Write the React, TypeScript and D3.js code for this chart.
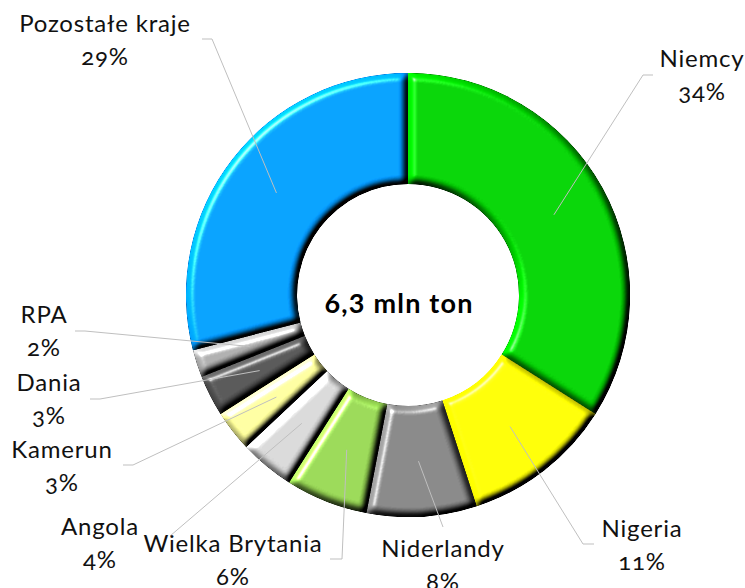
import * as d3 from "d3";

const countries = [
  "Niemcy",
  "Nigeria",
  "Niderlandy",
  "Wielka Brytania",
  "Angola",
  "Kamerun",
  "Dania",
  "RPA",
  "Pozostałe kraje",
];
const shares = [34, 11, 8, 6, 4, 3, 3, 2, 29];
const colors = [
  "#00cc00",
  "#ffff00",
  "#808080",
  "#92d050",
  "#d0d0d0",
  "#ffff99",
  "#505050",
  "#a6a6a6",
  "#0099ff",
];
const centerText = "6,3 mln ton";

// label layout: text anchor (x, baseline) and leader elbow + end
const labelPos: [number, number][] = [
  [702, 67],
  [642, 537],
  [443, 557],
  [233, 552],
  [100, 535],
  [62, 458],
  [49, 391],
  [44, 323],
  [105, 32],
];
const leaderElbow: [number, number][] = [
  [643, 75],
  [583, 544],
  [443, 527],
  [342, 559],
  [170, 536],
  [133, 465],
  [100, 399],
  [85, 331],
  [212, 39],
];
const leaderEnd = [653, 594, 443, 330, 170, 123, 90, 75, 202];

const W = 745;
const H = 588;
const cx = 408;
const cy = 295;
const outerR = 222;
const innerR = 111;
const font = "Lato, 'Open Sans', sans-serif";

export default function App() {
  const pie = d3
    .pie<number>()
    .sort(null)
    .value((d) => d);
  const arcs = pie(shares);
  const arc = d3
    .arc<d3.PieArcDatum<number>>()
    .innerRadius(innerR)
    .outerRadius(outerR);

  return (
    <svg
      width={W}
      height={H}
      style={{ position: "absolute", left: 0, top: 0, background: "#fff" }}
    >
      <defs>
        <filter
          id="bevel"
          x="-5%"
          y="-5%"
          width="110%"
          height="110%"
          colorInterpolationFilters="sRGB"
        >
          <feGaussianBlur in="SourceAlpha" stdDeviation="3.5" result="blur" />
          <feDiffuseLighting
            in="blur"
            surfaceScale="6"
            diffuseConstant="1"
            lightingColor="#fff"
            result="diff"
          >
            <feDistantLight azimuth="225" elevation="45" />
          </feDiffuseLighting>
          <feComposite
            in="SourceGraphic"
            in2="diff"
            operator="arithmetic"
            k1="1.414"
            k2="0"
            k3="0"
            k4="0"
            result="lit"
          />
          <feSpecularLighting
            in="blur"
            surfaceScale="6"
            specularConstant="0.7"
            specularExponent="35"
            lightingColor="#fff"
            result="spec"
          >
            <feDistantLight azimuth="225" elevation="45" />
          </feSpecularLighting>
          <feComposite in="spec" in2="SourceAlpha" operator="in" result="specIn" />
          <feComposite
            in="lit"
            in2="specIn"
            operator="arithmetic"
            k1="0"
            k2="1"
            k3="1"
            k4="0"
          />
        </filter>
      </defs>

      <g transform={`translate(${cx},${cy})`}>
        {arcs.map((a, i) => (
          <path
            key={countries[i]}
            d={arc(a) || ""}
            fill={colors[i]}
            filter="url(#bevel)"
          />
        ))}
      </g>

      {/* leader lines */}
      <g fill="none" stroke="#bfbfbf" strokeWidth={1}>
        {arcs.map((a, i) => {
          const [mx, my] = arc.centroid(a);
          const [ex, ey] = leaderElbow[i];
          const pts: [number, number][] = [
            [cx + mx, cy + my],
            [ex, ey],
            [leaderEnd[i], ey],
          ];
          return <path key={i} d={d3.line()(pts) || ""} />;
        })}
      </g>

      {/* labels */}
      <g
        fontFamily={font}
        fontSize={24}
        letterSpacing={0.8}
        fill="#111"
        textAnchor="middle"
      >
        {countries.map((c, i) => (
          <text key={c} x={labelPos[i][0]} y={labelPos[i][1]}>
            <tspan x={labelPos[i][0]}>{c}</tspan>
            <tspan
              x={labelPos[i][0]}
              dy={33}
              style={{ fontVariantNumeric: "oldstyle-nums" }}
            >
              {shares[i]}%
            </tspan>
          </text>
        ))}
      </g>

      <text
        x={399}
        y={313}
        textAnchor="middle"
        fontFamily={font}
        fontWeight="bold"
        fontSize={27}
        letterSpacing={1.2}
        fill="#000"
      >
        {centerText}
      </text>
    </svg>
  );
}
